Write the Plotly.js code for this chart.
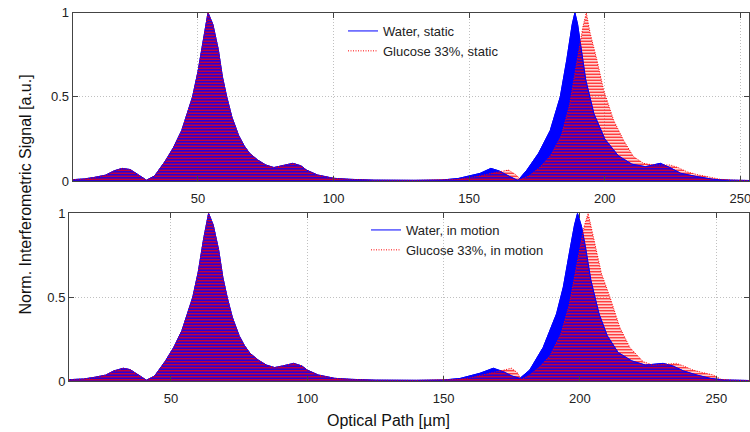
<!DOCTYPE html>
<html>
<head>
<meta charset="utf-8">
<script src="https://cdn.plot.ly/plotly-3.0.1.min.js"></script>
<style>html,body{margin:0;padding:0;background:#fff;}#chart{width:750px;height:432px;}</style>
</head>
<body>
<div id="chart"></div>
<script>
// ---- Top panel: static ----
var waterStaticX = [3.8, 8, 12, 16, 19, 22, 25, 28, 31, 34, 38, 41, 44, 46, 48, 50, 52, 53.7, 55.5, 57.5, 59, 60.6, 62.5, 65, 67, 69, 72, 75, 78, 81, 85, 88, 90, 94, 100, 106, 115, 130, 140, 146, 150, 154, 158, 161, 165, 168, 171.3, 175.6, 179.9, 183.6, 186, 188, 189, 190, 191, 193, 196, 200, 205, 210, 215, 218, 220.5, 224, 228, 234, 240, 246, 253.5];
var waterStaticY = [0.008, 0.012, 0.022, 0.035, 0.06, 0.075, 0.068, 0.035, 0.005, 0.03, 0.12, 0.2, 0.3, 0.4, 0.5, 0.65, 0.85, 1.0, 0.93, 0.78, 0.62, 0.5, 0.38, 0.27, 0.21, 0.165, 0.125, 0.095, 0.08, 0.09, 0.105, 0.09, 0.065, 0.036, 0.016, 0.01, 0.005, 0.004, 0.006, 0.015, 0.03, 0.045, 0.075, 0.06, 0.026, 0.003, 0.065, 0.165, 0.30, 0.5, 0.72, 0.93, 1.0, 0.93, 0.82, 0.6, 0.4, 0.25, 0.15, 0.1, 0.085, 0.095, 0.105, 0.08, 0.046, 0.026, 0.01, 0.005, 0.003];

var glucoseStaticX = [3.8, 8, 12, 16, 19, 22, 25, 28, 31, 34, 38, 41, 44, 46, 48, 50, 52, 53.7, 55.5, 57.5, 59, 60.6, 62.5, 65, 67, 69, 72, 75, 78, 81, 85, 88, 90, 94, 100, 106, 115, 130, 140, 146, 150, 154, 158, 162, 164.5, 167, 169, 172, 176, 180, 184, 187, 190, 192, 193.2, 194.6, 197.1, 199.6, 203.3, 207, 210.6, 214.3, 218, 221, 224.2, 227, 230.3, 234, 237.7, 242.6, 248, 253.5];
var glucoseStaticY = [0.008, 0.012, 0.022, 0.035, 0.06, 0.075, 0.068, 0.035, 0.005, 0.03, 0.12, 0.2, 0.3, 0.4, 0.5, 0.65, 0.85, 1.0, 0.93, 0.78, 0.62, 0.5, 0.38, 0.27, 0.21, 0.165, 0.125, 0.095, 0.08, 0.09, 0.105, 0.09, 0.065, 0.036, 0.016, 0.01, 0.005, 0.004, 0.005, 0.01, 0.02, 0.03, 0.045, 0.06, 0.065, 0.04, 0.01, 0.03, 0.08, 0.15, 0.27, 0.45, 0.72, 0.92, 1.0, 0.88, 0.72, 0.54, 0.36, 0.24, 0.145, 0.105, 0.095, 0.095, 0.095, 0.08, 0.055, 0.038, 0.026, 0.01, 0.005, 0.003];

// ---- Bottom panel: in motion ----
var waterMotionX = [12.6, 18, 22, 26, 29, 32.5, 35, 38, 41, 44, 48, 51, 54, 56, 58, 60, 62, 63.8, 65.5, 67.5, 69, 70.6, 72.5, 75, 77, 79, 82, 85, 88, 91, 95, 98, 100, 104, 110, 116, 125, 140, 150, 156, 160, 163.3, 168.2, 172, 175, 178, 181.6, 186.5, 191.4, 193.9, 196.3, 198, 199.1, 200.6, 202, 204, 207, 210, 214, 219, 224, 227, 230.5, 234, 238, 243, 248, 253, 262];
var waterMotionY = [0.008, 0.012, 0.022, 0.035, 0.06, 0.076, 0.068, 0.035, 0.005, 0.03, 0.12, 0.2, 0.3, 0.4, 0.5, 0.65, 0.85, 1.0, 0.93, 0.78, 0.62, 0.5, 0.38, 0.27, 0.21, 0.165, 0.125, 0.095, 0.08, 0.09, 0.105, 0.09, 0.065, 0.036, 0.016, 0.01, 0.005, 0.004, 0.006, 0.015, 0.03, 0.046, 0.076, 0.055, 0.03, 0.016, 0.066, 0.2, 0.40, 0.56, 0.78, 0.93, 1.0, 0.92, 0.8, 0.6, 0.4, 0.27, 0.17, 0.12, 0.095, 0.1, 0.105, 0.09, 0.06, 0.035, 0.015, 0.006, 0.003];

var glucoseMotionX = [12.6, 18, 22, 26, 29, 32.5, 35, 38, 41, 44, 48, 51, 54, 56, 58, 60, 62, 63.8, 65.5, 67.5, 69, 70.6, 72.5, 75, 77, 79, 82, 85, 88, 91, 95, 98, 100, 104, 110, 116, 125, 140, 150, 156, 160, 164, 168, 171, 174.9, 177, 178.5, 181, 185, 189, 193, 196, 199, 201.5, 203, 205.5, 207.9, 211, 214.6, 218.3, 223.2, 226.9, 231, 235.4, 238, 241.5, 245, 248.9, 251.7, 256, 262];
var glucoseMotionY = [0.008, 0.012, 0.022, 0.035, 0.06, 0.076, 0.068, 0.035, 0.005, 0.03, 0.12, 0.2, 0.3, 0.4, 0.5, 0.65, 0.85, 1.0, 0.93, 0.78, 0.62, 0.5, 0.38, 0.27, 0.21, 0.165, 0.125, 0.095, 0.08, 0.09, 0.105, 0.09, 0.065, 0.036, 0.016, 0.01, 0.005, 0.004, 0.005, 0.01, 0.02, 0.035, 0.05, 0.065, 0.076, 0.05, 0.01, 0.03, 0.08, 0.15, 0.28, 0.45, 0.7, 0.92, 1.0, 0.82, 0.64, 0.50, 0.32, 0.2, 0.115, 0.095, 0.1, 0.105, 0.09, 0.065, 0.05, 0.036, 0.01, 0.005, 0.003];

var xTicks = [50, 100, 150, 200, 250];
var yTicks = [0, 0.5, 1];
var yTickText = ['0', '0.5', '1'];

var BLUE = '#0000ff', RED = '#ff0000';

function fillBlue(x, y, xa, ya) {
  return {x: x, y: y, xaxis: xa, yaxis: ya, type: 'scatter', mode: 'lines',
    fill: 'tozeroy', fillcolor: BLUE, line: {color: BLUE, width: 1},
    showlegend: false, hoverinfo: 'skip'};
}
function fillRed(x, y, xa, ya) {
  return {x: x, y: y, xaxis: xa, yaxis: ya, type: 'scatter', mode: 'lines',
    fill: 'tozeroy', fillcolor: 'rgba(0,0,0,0)',
    fillpattern: {shape: '-', fgcolor: RED, bgcolor: 'rgba(0,0,0,0)', size: 3, solidity: 0.45},
    line: {color: RED, width: 0}, showlegend: false, hoverinfo: 'skip'};
}
function lineTrace(x, y, xa, ya, name, color, dash, lg) {
  return {x: x, y: y, xaxis: xa, yaxis: ya, type: 'scatter', mode: 'lines', name: name,
    line: {color: color, width: 1, dash: dash}, legend: lg, showlegend: true};
}

var data = [
  fillBlue(waterStaticX, waterStaticY, 'x', 'y'),
  fillRed(glucoseStaticX, glucoseStaticY, 'x', 'y'),
  lineTrace(waterStaticX, waterStaticY, 'x', 'y', 'Water, static', BLUE, 'solid', 'legend'),
  lineTrace(glucoseStaticX, glucoseStaticY, 'x', 'y', 'Glucose 33%, static', RED, '1px,1.5px', 'legend'),
  fillBlue(waterMotionX, waterMotionY, 'x2', 'y2'),
  fillRed(glucoseMotionX, glucoseMotionY, 'x2', 'y2'),
  lineTrace(waterMotionX, waterMotionY, 'x2', 'y2', 'Water, in motion', BLUE, 'solid', 'legend2'),
  lineTrace(glucoseMotionX, glucoseMotionY, 'x2', 'y2', 'Glucose 33%, in motion', RED, '1px,1.5px', 'legend2')
];

var FONT = 'Liberation Sans, Arial, sans-serif';
function xAxis(range, domain, anchor) {
  return {range: range, domain: domain, anchor: anchor, tickvals: xTicks,
    ticks: 'inside', ticklen: 5, tickcolor: '#444', showline: true, linecolor: '#444', linewidth: 1,
    mirror: 'ticks', showgrid: true, gridcolor: '#c0c0c0', griddash: '1px,2px', gridwidth: 1,
    zeroline: false, tickfont: {family: FONT, size: 13, color: '#222'}, automargin: false,
    ticklabeloverflow: 'allow', ticklabelstandoff: 5};
}
function yAxis(domain, anchor) {
  return {range: [0, 1], domain: domain, anchor: anchor, tickvals: yTicks, ticktext: yTickText,
    ticks: 'inside', ticklen: 5, tickcolor: '#444', showline: true, linecolor: '#444', linewidth: 1,
    mirror: 'ticks', showgrid: true, gridcolor: '#c0c0c0', griddash: '1px,2px', gridwidth: 1,
    zeroline: false, tickfont: {family: FONT, size: 13, color: '#222'}, automargin: false};
}

var legendBase = {font: {family: FONT, size: 13, color: '#222'}, bgcolor: 'rgba(255,255,255,0)',
  borderwidth: 0, xanchor: 'left', yanchor: 'top', tracegroupgap: 0, itemwidth: 30};

var layout = {
  width: 750, height: 432,
  margin: {l: 0, r: 1, t: 0, b: 0},
  paper_bgcolor: '#fff', plot_bgcolor: '#fff',
  font: {family: FONT, color: '#222'},
  showlegend: true,
  xaxis: xAxis([3.8, 253.2], [72.7/749, 1], 'y'),
  yaxis: yAxis([1 - 181/432, 1 - 12.7/432], 'x'),
  xaxis2: xAxis([12.6, 262], [69/749, 1], 'y2'),
  yaxis2: yAxis([1 - 381/432, 1 - 213.3/432], 'x2'),
  legend: Object.assign({}, legendBase, {x: 343/749, y: 1 - 16/432}),
  legend2: Object.assign({}, legendBase, {x: 366/749, y: 1 - 215/432}),
  annotations: [
    {text: 'Norm. Interferometric Signal [a.u.]', xref: 'paper', yref: 'paper',
     x: 26/750, y: 1 - 194.5/432, xanchor: 'center', yanchor: 'middle', textangle: -90,
     showarrow: false, font: {family: FONT, size: 16, color: '#111'}},
    {text: 'Optical Path [µm]', xref: 'paper', yref: 'paper',
     x: 389/750, y: 1 - 420/432, xanchor: 'center', yanchor: 'middle',
     showarrow: false, font: {family: FONT, size: 16, color: '#111'}}
  ]
};

Plotly.newPlot('chart', data, layout, {displayModeBar: false, staticPlot: true});
</script>
</body>
</html>
